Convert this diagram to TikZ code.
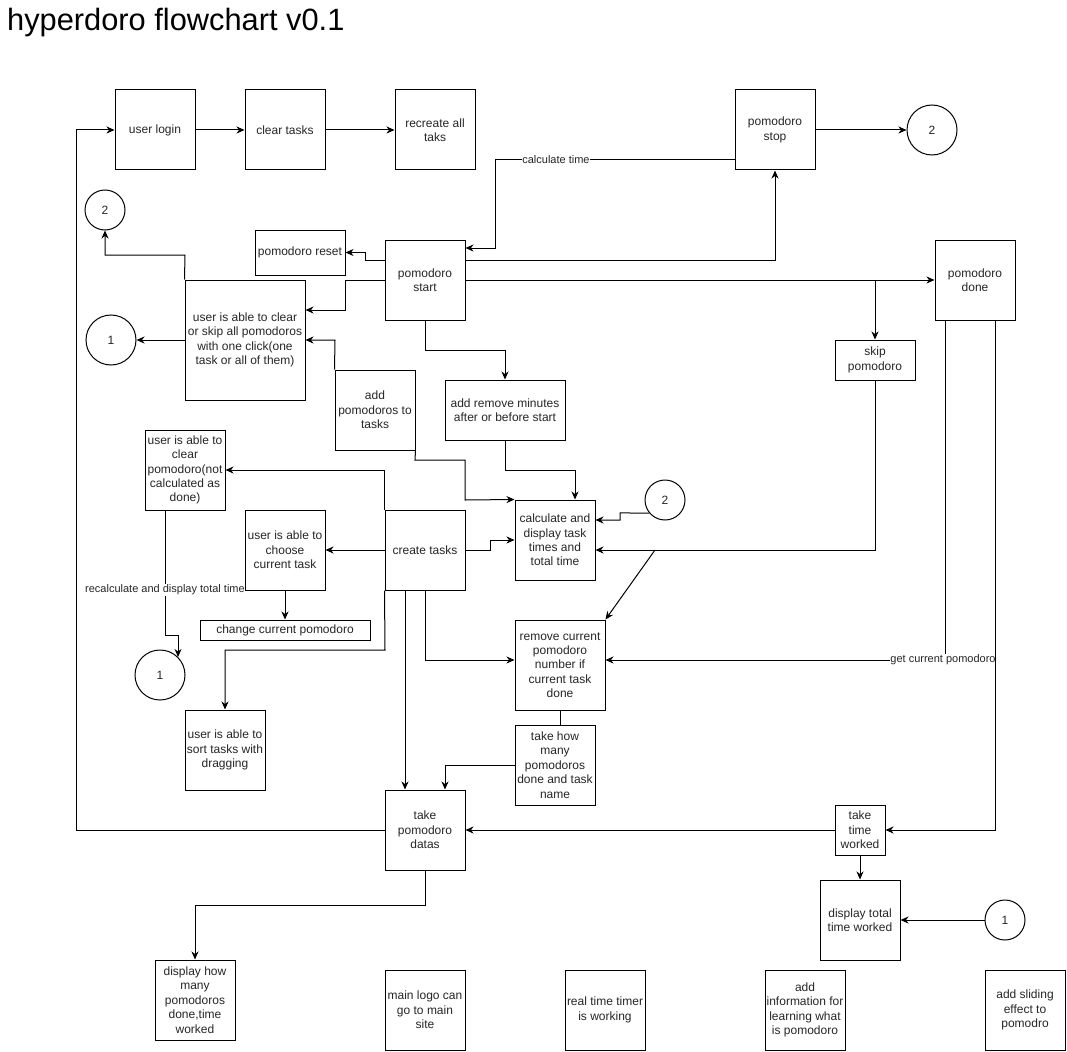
\documentclass[tikz,border=0pt]{standalone}
\usepackage{fontspec}
\setmainfont{Liberation Sans}
\usetikzlibrary{arrows.meta}
\begin{document}
\begin{tikzpicture}[x=1pt,y=-1pt,
 box/.style={draw, line width=1pt, align=center, inner sep=1pt, font=\fontsize{12}{14.4}\selectfont, text=black!85},
 circ/.style={draw, circle, line width=1pt, inner sep=0pt, font=\fontsize{12}{14.4}\selectfont, text=black!85},
 arr/.style={line width=1pt, -{Stealth[length=8pt,width=7pt,inset=2.5pt]}},
 ln/.style={line width=1pt},
 lbl/.style={fill=white, inner sep=0.5pt, font=\fontsize{11}{13}\selectfont, text=black!85}]
\useasboundingbox[fill=white] (0,0) rectangle (1067,1051);

\node[anchor=base west, font=\fontsize{30.8}{36}\selectfont, inner sep=0pt] (title) at (7,31) {hyperdoro flowchart v0.1};

% nodes
\node[box, minimum width=80, minimum height=80] (login) at (155,130) {user login};
\node[box, minimum width=80, minimum height=80] (clear) at (285,130) {clear tasks};
\node[box, minimum width=80, minimum height=80] (recreate) at (435,130) {recreate all\\taks};
\node[box, minimum width=80, minimum height=80] (stop) at (775,130) {pomodoro\\stop};
\node[circ, minimum size=50] (c2a) at (932,130) {2};
\node[circ, minimum size=40] (c2b) at (105,210) {2};
\node[box, minimum width=90, minimum height=45] (reset) at (300,252.5) {pomodoro reset};
\node[box, minimum width=80, minimum height=80] (start) at (425,280) {pomodoro\\start};
\node[box, minimum width=80, minimum height=80] (done) at (975,280) {pomodoro\\done};
\node[box, minimum width=120, minimum height=120] (clrskip) at (245,340) {user is able to clear\\or skip all pomodoros\\with one click(one\\task or all of them)};
\node[circ, minimum size=50] (c1a) at (111,340) {1};
\node[box, minimum width=80, minimum height=40] (skip) at (875,360) {skip\\pomodoro};
\node[box, minimum width=80, minimum height=80] (addpom) at (375,410) {add\\pomodoros to\\tasks};
\node[box, minimum width=120, minimum height=60] (addmin) at (505,410) {add remove minutes\\after or before start};
\node[box, minimum width=80, minimum height=80] (clrpom) at (185,470) {user is able to\\clear\\pomodoro(not\\calculated as\\done)};
\node[box, minimum width=80, minimum height=80] (calc) at (555,540) {calculate and\\display task\\times and\\total time};
\node[circ, minimum size=40] (c2m) at (665,500) {2};
\node[box, minimum width=80, minimum height=80] (create) at (425,550) {create tasks};
\node[box, minimum width=80, minimum height=80] (choose) at (285,550) {user is able to\\choose\\current task};
\node[box, minimum width=170, minimum height=20] (change) at (285,630) {change current pomodoro};
\node[circ, minimum size=50] (c1b) at (160,675) {1};
\node[box, minimum width=90, minimum height=90] (remove) at (560,665) {remove current\\pomodoro\\number if\\current task\\done};
\node[box, minimum width=80, minimum height=80] (sort) at (225,750) {user is able to\\sort tasks with\\dragging};
\node[box, minimum width=80, minimum height=80] (takehow) at (555,765) {take how\\many\\pomodoros\\done and task\\name};
\node[box, minimum width=80, minimum height=80] (datas) at (425,830) {take\\pomodoro\\datas};
\node[box, minimum width=50, minimum height=50] (taketime) at (860,830) {take\\time\\worked};
\node[box, minimum width=80, minimum height=80] (disptotal) at (860,920) {display total\\time worked};
\node[circ, minimum size=40] (c1c) at (1005,920) {1};
\node[box, minimum width=80, minimum height=80] (disphow) at (195,1000) {display how\\many\\pomodoros\\done,time\\worked};
\node[box, minimum width=80, minimum height=80] (logo) at (425,1010) {main logo can\\go to main\\site};
\node[box, minimum width=80, minimum height=80] (realtime) at (605,1010) {real time timer\\is working};
\node[box, minimum width=80, minimum height=80] (addinfo) at (805,1010) {add\\information for\\learning what\\is pomodoro};
\node[box, minimum width=80, minimum height=80] (sliding) at (1025,1010) {add sliding\\effect to\\pomodro};

\coordinate (j1) at (875,280);
\coordinate (j2) at (655,550);

% connectors
\draw[arr] (login) -- (clear);
\draw[arr] (clear) -- (recreate);
\draw[arr] (stop) -- (c2a);
\draw[arr] (stop.west |- 0,160) -- (495,160) -- (495,248) -- (start.east |- 0,248);
\node[lbl] (lcalc) at (556,160) {calculate time};
\draw[arr] (start.east |- 0,260) -| (stop.south);
\draw[arr] (start.east) -- (done.west);
\draw[arr] (j1) -- (skip.north);
\draw[arr] (start.west |- 0,260) -- (365,260) -- (365,252.5) -- (reset.east);
\draw[arr] (start.west) -- (345,280) -- (345,310) -- (clrskip.east |- 0,310);
\draw[arr] (clrskip.north west) -- (185,255) -- (105,255) -- (c2b.south);
\draw[arr] (clrskip.west) -- (c1a.east);
\draw[arr] (addpom.north west) -- (335,340) -- (clrskip.east |- 0,340);
\draw[arr] (addpom.south east) -- (415,460) -- (465,460) -- (465,500) -- (calc.north west);
\draw[arr] (start.south) -- (425,350) -- (505,350) -- (addmin.north);
\draw[arr] (addmin.south) -- (505,470) -- (575,470) -- (calc.north -| 575,0);
\draw[arr] (c2m.220) -- (620,512.9) |- (calc.east |- 0,520);
\draw[arr] (skip.south) |- (calc.east |- 0,550);
\draw[arr] (j2) -- (remove.north east);
\draw[arr] (create.east) -- (490,550) -- (490,540) -- (calc.west |- 0,540);
\draw[arr] (create.south) |- (remove.west |- 0,660);
\draw[arr] (create.south -| 405,0) -- (datas.north -| 405,0);
\draw[ln] (remove.south -| 560,0) -- (takehow.north -| 560,0);
\draw[arr] (takehow.west) -| (datas.north -| 445,0);
\draw[arr] (create.north west) |- (clrpom.east);
\draw[arr] (create.south west) -- (385,650) -| (sort.north);
\draw[arr] (create.west) -- (choose.east);
\draw[arr] (choose.south) -- (change.north);
\draw[arr] (clrpom.south -| 165,0) -- (165,635) -- (c1b.north east |- 0,635) -- (c1b.north east);
\node[lbl] (lrecalc) at (165,590) {recalculate and display total time};
\draw[arr] (done.south -| 945,0) |- (remove.east |- 0,660);
\node[lbl] (lget) at (943,660) {get current pomodoro};
\draw[arr] (done.south -| 995,0) |- (taketime.east);
\draw[arr] (taketime.west) -- (datas.east);
\draw[arr] (taketime.south) -- (disptotal.north);
\draw[arr] (c1c.west) -- (disptotal.east);
\draw[arr] (datas.west) -- (76,830) -- (76,130) -- (login.west);
\draw[arr] (datas.south) -- (425,905) -| (disphow.north);
\end{tikzpicture}
\end{document}
